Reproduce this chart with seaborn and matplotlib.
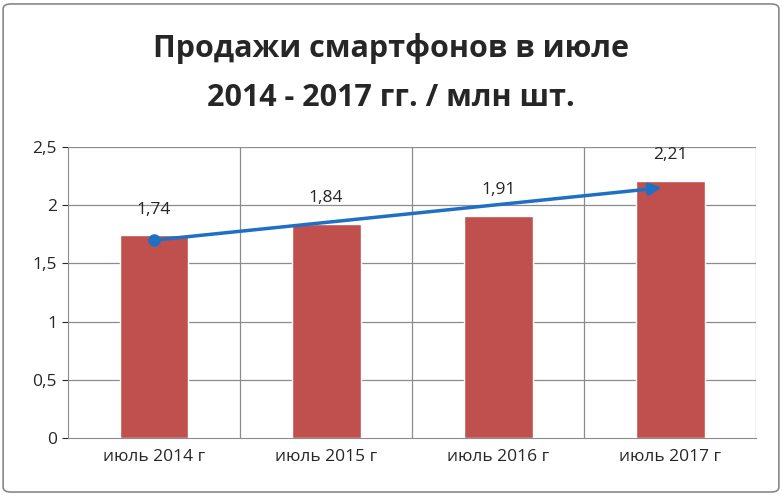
import matplotlib
matplotlib.use("Agg")
import matplotlib.pyplot as plt
import seaborn as sns
import pandas as pd
from matplotlib.patches import FancyBboxPatch

# --- data ---
categories = ["июль 2014 г", "июль 2015 г", "июль 2016 г", "июль 2017 г"]
sales = [1.74, 1.84, 1.91, 2.21]
value_labels = ["1,74", "1,84", "1,91", "2,21"]
yticks = [0, 0.5, 1, 1.5, 2, 2.5]
ytick_labels = ["0", "0,5", "1", "1,5", "2", "2,5"]
trend_start = (0, 1.70)
trend_end = (2.95, 2.15)

sns.set_style("white")
plt.rcParams["font.family"] = ["Open Sans", "DejaVu Sans"]

df = pd.DataFrame({"cat": categories, "val": sales})

fig = plt.figure(figsize=(7.82, 4.95), dpi=100)
fig.patches.append(FancyBboxPatch((0.004, 0.006), 0.992, 0.986,
                                  boxstyle="round,pad=0,rounding_size=0.01",
                                  transform=fig.transFigure, fill=False,
                                  edgecolor="#888888", linewidth=1.2))
ax = fig.add_axes([0.087, 0.115, 0.88, 0.588])

sns.barplot(data=df, x="cat", y="val", color="#C0504D", width=0.4,
            saturation=1, ax=ax)

ax.set_ylim(0, 2.5)
ax.set_xlim(-0.5, 3.5)
ax.set_yticks(yticks)
ax.set_yticklabels(ytick_labels, fontsize=12.5)
ax.tick_params(axis="x", labelsize=12.5, length=0, pad=8)
ax.tick_params(axis="y", length=4, pad=4, left=True)
ax.set_xlabel("")
ax.set_ylabel("")

# grid: horizontal on ticks, vertical on category boundaries
for y in yticks[1:]:
    ax.axhline(y, color="#8c8c8c", linewidth=0.9, zorder=0)
for x in [0.5, 1.5, 2.5, 3.5]:
    ax.axvline(x, color="#8c8c8c", linewidth=0.9, zorder=0)
for s in ["top", "right"]:
    ax.spines[s].set_visible(False)
ax.spines["left"].set_color("#8c8c8c")
ax.spines["bottom"].set_color("#8c8c8c")

for i, (v, lab) in enumerate(zip(sales, value_labels)):
    ax.text(i, v + 0.15, lab, ha="center", va="bottom", fontsize=12.5)

ax.annotate("", xy=trend_end, xytext=trend_start,
            arrowprops=dict(arrowstyle="-|>", color="#1F6FC5", lw=2.5,
                            mutation_scale=18, shrinkA=0, shrinkB=0))
ax.plot(*trend_start, "o", color="#1F6FC5", markersize=8)

fig.text(0.5, 0.903, "Продажи смартфонов в июле", ha="center", va="center",
         fontsize=22, fontweight="bold")
fig.text(0.5, 0.803, "2014 - 2017 гг. / млн шт.", ha="center", va="center",
         fontsize=22, fontweight="bold")

fig.savefig("out.png", dpi=100)
